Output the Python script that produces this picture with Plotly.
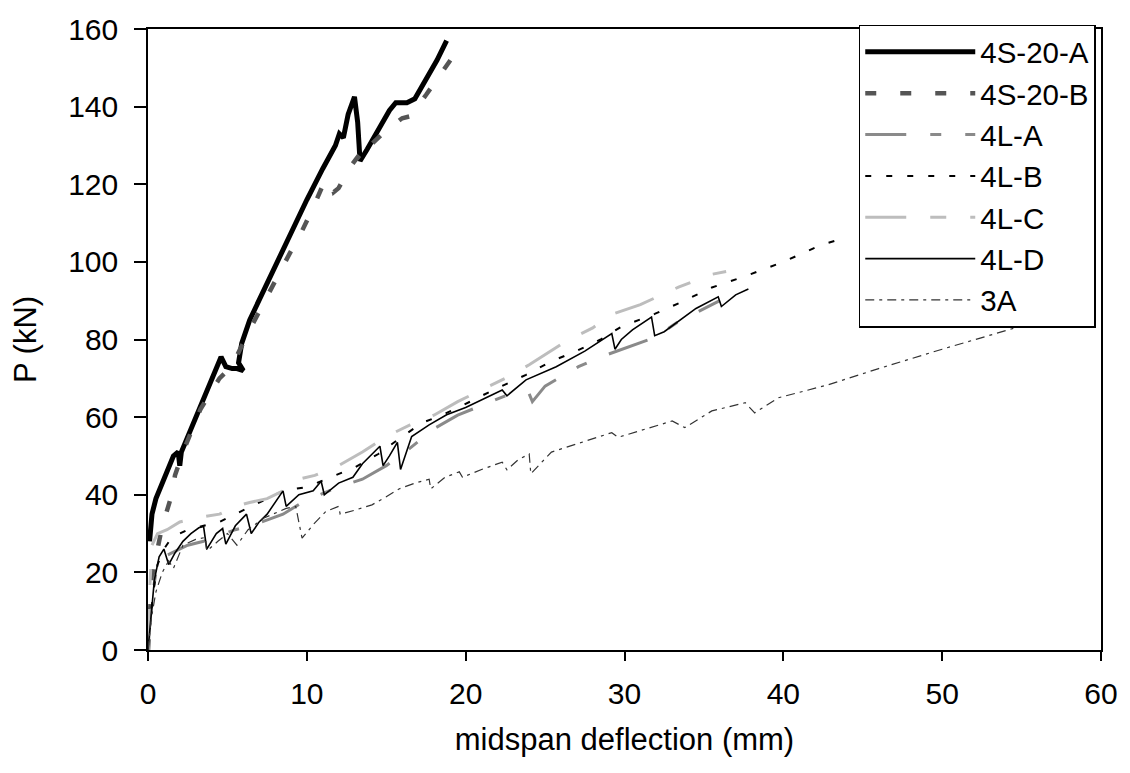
import plotly.graph_objects as go

# ---------------- data ----------------
x_4s20a = [0.1, 0.25, 0.5, 0.8, 1.2, 1.6, 1.9, 2.0, 2.1, 2.6, 3.2, 3.9, 4.6, 4.9, 5.3, 5.6, 6.0,
           5.7, 5.9, 6.4, 7.2, 8.1, 9.0, 10.0, 11.0, 11.8, 12.05, 12.3, 12.6, 13.0, 13.2, 13.35,
           13.8, 14.5, 15.2, 15.6, 16.3, 16.8, 17.5, 18.2, 18.8]
p_4s20a = [28, 35, 39, 42, 46, 50, 51, 47.5, 51, 56, 62, 68.5, 75.5, 73, 72.5, 72.5, 72,
           74, 79, 85, 92, 99.4, 107, 116, 124, 130, 133, 132, 138, 142.5, 136, 126,
           129, 134, 139, 141, 141, 142, 147, 152, 157]

x_4s20b = [0, 0.2, 0.4, 0.8, 1.2, 1.5, 1.7, 2.2, 2.7, 3.3, 3.9, 4.5, 5.0, 5.5, 6.4, 7.2, 8.0, 8.9,
           9.7, 10.4, 11.0, 11.5, 11.7, 12.0, 12.7, 13.2, 13.5, 14.0, 15.0, 16.0, 16.5, 17.5,
           18.5, 19.3]
p_4s20b = [0, 15, 22, 30, 36, 40, 45, 51, 56, 62, 66, 70, 72, 75, 82.5, 89, 95, 102,
           108, 114, 119.7, 121, 118, 119, 124.3, 127, 126, 130, 134, 137, 137.5, 143,
           149, 153.5]

x_4la = [0, 0.2, 0.5, 1.0, 1.5, 2.5, 3.5, 4.5, 5.5, 6.5, 7.5, 8.5, 9.5, 10.5, 12.0, 13.5, 15.0,
         16.5, 18.0, 19.5, 21.0, 22.5, 24.0, 24.2, 25.0, 27.1, 28.5, 30.0, 31.9, 33.4, 35.0, 36.0]
p_4la = [0, 12, 20, 24, 25, 27, 28, 29.5, 31, 32, 33.5, 35, 37.5, 39.5, 42, 44, 47.5,
         52, 57, 60.5, 63, 65.5, 66, 64, 68, 73, 75.5, 77.7, 80.5, 84.6, 88, 90]

x_4lb = [0, 0.3, 0.6, 1.0, 1.5, 2.5, 3.5, 4.5, 5.5, 6.5, 7.5, 8.5, 10.0, 11.5, 13.0, 14.5, 16.0,
         17.3, 18.5, 19.8, 21.5, 23.8, 25.4, 26.9, 28.5, 29.8, 31.9, 33.5, 35.5, 37.6, 40.0,
         42.4, 43.4]
p_4lb = [0, 14, 22, 26, 29, 31, 32, 33, 35, 37, 39, 41, 42, 44.5, 47, 50.5, 55,
         58.6, 60.5, 63, 66.5, 70.9, 74.4, 76.9, 80, 83.3, 86.6, 89.5, 93.4, 96.3, 100,
         104.4, 105.6]

x_4lc = [0, 0.1, 0.25, 0.6, 1.2, 2.0, 3.0, 3.7, 4.5, 5.5, 6.4, 7.5, 8.5, 9.5, 10.5, 12.0, 13.5,
         15.0, 16.5, 18.0, 19.5, 21.0, 22.5, 24.0, 26.3, 28.0, 29.2, 31.0, 33.4, 35.5, 36.4]
p_4lc = [0, 15, 27, 30, 31, 33, 34, 34.5, 35, 37, 38, 39, 41, 44, 45, 47.5, 51,
         55, 58, 60.5, 64, 67, 70, 73.5, 79.5, 83, 86.5, 89, 93.5, 96.8, 97.5]

x_4ld = [0, 0.2, 0.4, 0.7, 1.0, 1.3, 1.7, 2.2, 2.7, 3.2, 3.5, 3.7, 4.3, 4.7, 4.9, 5.5, 6.2, 6.5,
         7.0, 7.5, 8.0, 8.5, 8.7, 9.5, 10.4, 10.9, 11.1, 12.0, 12.9, 13.5, 14.6, 14.8, 15.2,
         15.7, 15.9, 16.6, 17.7, 18.8, 20.0, 21.0, 22.3, 22.6, 23.8, 25.7, 27.5, 29.2, 29.4,
         29.8, 30.5, 31.7, 31.9, 32.5, 33.4, 34.5, 35.9, 36.1, 37.0, 37.8]
p_4ld = [0, 10, 18, 24, 26, 22, 25, 28, 30, 31.5, 31.8, 26, 30, 31.3, 27.3, 32, 35, 30,
         33, 35, 38, 41, 37, 40, 41, 43.5, 40, 43, 44.5, 48, 52.5, 47.5, 50,
         53.5, 46.5, 55, 58, 60.6, 62.5, 64.5, 67, 65.5, 69.6, 73, 77, 81.5, 77.5,
         80, 82.5, 85.8, 81, 82, 84.8, 88, 91, 88.5, 91.5, 93]

x_3a = [0, 0.2, 0.5, 0.9, 1.3, 1.6, 2.2, 3.0, 3.6, 3.7, 4.4, 5.0, 5.6, 6.3, 7.3, 8.7, 9.3, 9.7,
        10.4, 11.2, 12.0, 12.1, 13.0, 14.1, 15.0, 15.8, 16.8, 17.7, 17.8, 18.7, 19.6, 19.8,
        21.0, 22.3, 22.6, 23.3, 24.0, 24.1, 25.4, 27.3, 29.2, 29.6, 31.3, 33.0, 33.8, 35.5,
        37.6, 38.2, 39.7, 42.8, 46.0, 50.0, 55.1]
p_3a = [0, 8, 15, 20, 23, 21, 27, 28.5, 29, 25.5, 28, 30, 27, 31, 34, 36.5, 37, 28.8,
        32.3, 35.7, 37, 35, 36, 37.4, 39.5, 41.5, 43, 44, 41.5, 44.5, 45.9, 44.5,
        46.5, 48.4, 46.4, 49, 50.5, 45.4, 51, 53.5, 56, 54.8, 57, 59, 57.3, 61.6,
        63.7, 61.1, 65, 68.3, 72.5, 77.5, 83.6]

x_ticks = [0, 10, 20, 30, 40, 50, 60]
y_ticks = [0, 20, 40, 60, 80, 100, 120, 140, 160]

# ---------------- figure ----------------
series = [
    ("4S-20-A", x_4s20a, p_4s20a, dict(color="#000000", width=5, dash="solid")),
    ("4S-20-B", x_4s20b, p_4s20b, dict(color="#555555", width=4.5, dash="11px,24px")),
    ("4L-A", x_4la, p_4la, dict(color="#8a8a8a", width=3, dash="41px,24px,11px,24px")),
    ("4L-B", x_4lb, p_4lb, dict(color="#000000", width=2, dash="6px,15px")),
    ("4L-C", x_4lc, p_4lc, dict(color="#bdbdbd", width=3, dash="41px,24px,16px,24px")),
    ("4L-D", x_4ld, p_4ld, dict(color="#000000", width=1.6, dash="solid")),
    ("3A", x_3a, p_3a, dict(color="#333333", width=1.2, dash="9px,5px,3px,5px")),
]

fig = go.Figure()
for name, xs, ys, ln in series:
    fig.add_trace(go.Scatter(x=xs, y=ys, mode="lines", name=name, line=ln))

font_family = "Liberation Sans, Arial, sans-serif"

fig.update_layout(
    width=1130, height=773,
    paper_bgcolor="white", plot_bgcolor="white",
    margin=dict(l=148, r=26, t=22, b=123),
    font=dict(family=font_family, color="black"),
    showlegend=True,
    legend=dict(
        x=0.7458, y=1.007, xanchor="left", yanchor="top",
        bgcolor="white", bordercolor="black", borderwidth=1.5,
        font=dict(size=29.5, family=font_family, color="black"),
        itemwidth=110, tracegroupgap=0,
    ),
    xaxis=dict(
        range=[0, 60], tickvals=x_ticks, ticktext=[str(v) for v in x_ticks],
        showgrid=False, zeroline=False,
        showline=True, linecolor="black", linewidth=1.5, mirror=True,
        ticks="outside", ticklen=9, tickwidth=1.5, tickcolor="black",
        tickfont=dict(size=30), ticklabelstandoff=7,
        title=dict(text="midspan deflection (mm)", font=dict(size=31), standoff=20),
    ),
    yaxis=dict(
        range=[0, 160], tickvals=y_ticks, ticktext=[str(v) for v in y_ticks],
        showgrid=False, zeroline=False,
        showline=True, linecolor="black", linewidth=1.5, mirror=True,
        ticks="outside", ticklen=12, tickwidth=1.5, tickcolor="black",
        tickfont=dict(size=30), ticklabelstandoff=10,
        title=dict(text="P (kN)", font=dict(size=31), standoff=22),
    ),
)

fig.write_html("out.html")
